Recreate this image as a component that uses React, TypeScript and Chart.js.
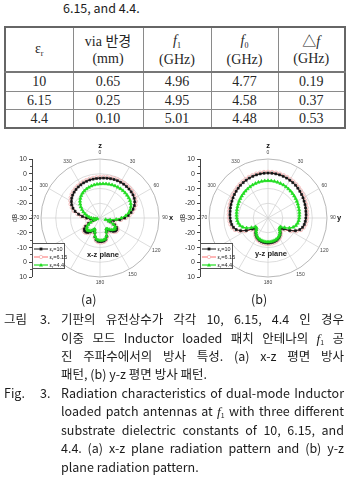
import React, { useEffect, useRef, useState } from 'react';
import { Chart, registerables } from 'chart.js';

Chart.register(...registerables);

// ---------------- table data ----------------
const erValues = ['10', '6.15', '4.4'];
const viaRadius = ['0.65', '0.25', '0.10'];
const f1Values = ['4.96', '4.95', '5.01'];
const f0Values = ['4.77', '4.58', '4.48'];
const dfValues = ['0.19', '0.37', '0.53'];

// ---------------- polar chart data ----------------
const angles = [
  0, 5, 10, 15, 20, 25, 30, 35, 40, 45, 50, 55, 60, 65, 70, 75, 80, 85,
  90, 95, 100, 105, 110, 115, 120, 125, 130, 135, 140, 145, 150, 155, 160, 165, 170, 175,
  180, 185, 190, 195, 200, 205, 210, 215, 220, 225, 230, 235, 240, 245, 250, 255, 260, 265,
  270, 275, 280, 285, 290, 295, 300, 305, 310, 315, 320, 325, 330, 335, 340, 345, 350, 355,
];
const angleTickLabels = ['0', '30', '60', '90', '120', '150', '180', '270', '300', '330'];
// dB axis beside each polar plot: upper half, centre, lower half (mirrored)
const dbTickValues = [10, 0, -10, -20, -30, -20, -10, 0, 10];
const dbTickSide = [-1, -1, -1, -1, 0, 1, 1, 1, 1];
const dbMinorValues = [5, -5, -15, -25];
const seriesEr = ['10', '6.15', '4.4'];

// x-z plane (dB)
const xzEr10 = [
  -3.0, -2.8, -2.6, -2.4, -2.2, -2.1, -2.0, -2.0, -2.1, -2.2,
  -2.4, -2.7, -3.2, -4.0, -5.2, -6.8, -8.6, -10.8, -13.3, -16.5,
  -20.5, -24.0, -22.5, -19.0, -17.0, -16.2, -16.3, -17.2, -18.6, -20.0,
  -21.0, -19.5, -16.8, -15.0, -14.2, -14.0, -14.0, -14.2, -15.0, -16.8,
  -19.5, -21.3, -20.0, -18.5, -17.2, -16.5, -16.4, -17.0, -18.8, -21.5,
  -25.0, -27.0, -26.0, -23.5, -21.0, -18.0, -15.3, -12.5, -10.5, -8.8,
  -7.6, -6.6, -5.8, -5.2, -4.7, -4.3, -4.0, -3.7, -3.5, -3.3,
  -3.2, -3.1,
];
const xzEr615 = [
  -2.2, -2.0, -1.8, -1.6, -1.4, -1.3, -1.2, -1.2, -1.3, -1.4,
  -1.6, -1.9, -2.4, -3.2, -4.4, -6.0, -7.8, -10.0, -12.5, -15.7,
  -19.5, -23.0, -21.8, -18.4, -16.4, -15.6, -15.7, -16.6, -18.0, -19.4,
  -20.4, -18.9, -16.2, -14.4, -13.6, -13.4, -13.4, -13.6, -14.4, -16.2,
  -18.9, -20.7, -19.4, -17.9, -16.6, -15.9, -15.8, -16.4, -18.2, -20.8,
  -24.2, -26.4, -25.4, -22.8, -20.2, -17.2, -14.5, -11.7, -9.7, -8.0,
  -6.8, -5.8, -5.0, -4.4, -3.9, -3.5, -3.2, -2.9, -2.7, -2.5,
  -2.4, -2.3,
];
const xzEr44 = [
  -6.9, -6.7, -6.5, -6.3, -6.1, -6.0, -5.9, -5.8, -5.8, -5.9,
  -6.0, -6.2, -6.5, -7.0, -7.7, -8.8, -10.3, -12.5, -15.5, -19.0,
  -23.0, -26.0, -23.5, -20.0, -18.0, -17.6, -17.8, -18.6, -19.8, -21.0,
  -21.5, -19.8, -17.2, -15.6, -15.0, -14.8, -14.8, -15.0, -15.6, -17.2,
  -19.8, -21.6, -20.8, -19.5, -18.6, -18.2, -18.4, -19.2, -20.8, -23.0,
  -26.0, -28.0, -27.0, -25.5, -24.0, -22.5, -21.0, -19.5, -18.0, -16.5,
  -15.0, -13.6, -12.3, -11.2, -10.2, -9.4, -8.8, -8.3, -7.9, -7.5,
  -7.2, -7.0,
];

// y-z plane (dB)
const yzEr10 = [
  0.5, 0.5, 0.4, 0.3, 0.1, -0.1, -0.4, -0.7, -1.0, -1.4,
  -1.8, -2.2, -2.6, -3.0, -3.3, -3.6, -3.9, -4.1, -4.3, -4.6,
  -5.0, -5.7, -7.0, -9.5, -13.0, -17.0, -19.0, -18.5, -17.0, -15.8,
  -14.9, -14.2, -13.7, -13.4, -13.2, -13.1, -13.0, -13.1, -13.2, -13.4,
  -13.7, -14.2, -14.9, -15.8, -17.0, -18.5, -19.0, -17.0, -13.0, -9.5,
  -7.0, -5.7, -5.0, -4.6, -4.3, -4.1, -3.9, -3.6, -3.3, -3.0,
  -2.6, -2.2, -1.8, -1.4, -1.0, -0.7, -0.4, -0.1, 0.1, 0.3,
  0.4, 0.5,
];
const yzEr615 = [
  1.3, 1.3, 1.2, 1.1, 0.9, 0.7, 0.4, 0.1, -0.2, -0.6,
  -1.0, -1.4, -1.8, -2.2, -2.5, -2.8, -3.1, -3.3, -3.5, -3.8,
  -4.2, -4.9, -6.2, -8.7, -12.2, -16.2, -18.4, -17.9, -16.4, -15.2,
  -14.3, -13.6, -13.1, -12.8, -12.6, -12.5, -12.4, -12.5, -12.6, -12.8,
  -13.1, -13.6, -14.3, -15.2, -16.4, -17.9, -18.4, -16.2, -12.2, -8.7,
  -6.2, -4.9, -4.2, -3.8, -3.5, -3.3, -3.1, -2.8, -2.5, -2.2,
  -1.8, -1.4, -1.0, -0.6, -0.2, 0.1, 0.4, 0.7, 0.9, 1.1,
  1.2, 1.3,
];
const yzEr44 = [
  -4.7, -4.7, -4.8, -4.9, -5.1, -5.3, -5.6, -5.9, -6.2, -6.5,
  -6.8, -7.1, -7.4, -7.7, -8.0, -8.2, -8.4, -8.6, -8.8, -9.1,
  -9.6, -10.4, -11.8, -14.0, -17.0, -19.5, -19.8, -18.8, -17.5, -16.3,
  -15.4, -14.8, -14.4, -14.1, -13.9, -13.8, -13.8, -13.8, -13.9, -14.1,
  -14.4, -14.8, -15.4, -16.3, -17.5, -18.8, -19.8, -19.5, -17.0, -14.0,
  -11.8, -10.4, -9.6, -9.1, -8.8, -8.6, -8.4, -8.2, -8.0, -7.7,
  -7.4, -7.1, -6.8, -6.5, -6.2, -5.9, -5.6, -5.3, -5.1, -4.9,
  -4.8, -4.7,
];

// ---------------- styles ----------------
const seriesStyles = [
  { line: '#151515', point: 'rect', fill: '#151515', stroke: '#151515', radius: 1.5, width: 1, order: 2 },
  { line: '#ff4a4a', point: 'circle', fill: '#ffffff', stroke: '#f09a9a', radius: 1.7, width: 0.8, order: 3 },
  { line: '#22dd22', point: 'triangle', fill: '#22dd22', stroke: '#22dd22', radius: 1.9, width: 1.2, order: 1 },
];

const CAP = '"Noto Sans CJK KR", "Liberation Sans", Arial, sans-serif';
const SERIF = '"Liberation Serif", "Times New Roman", "Noto Sans CJK KR", serif';
const CHART_TOP = 140;
const CHART_H = 150;

type PolarProps = { left: number; width: number; padRight: number; axisName: string; series: number[][] };
type AxisInfo = { x: number; cy: number; ys: number[]; top: number; bottom: number };

function PolarPattern({ left, width, padRight, axisName, series }: PolarProps) {
  const ref = useRef<HTMLCanvasElement | null>(null);
  const [axis, setAxis] = useState<AxisInfo | null>(null);
  useEffect(() => {
    const canvas = ref.current;
    if (!canvas) return;
    const annot = {
      id: 'polarAnnot',
      afterDraw(chart: any) {
        const r = chart.scales.r;
        const ctx = chart.ctx;
        const R = r.drawingArea;
        ctx.save();
        ctx.textAlign = 'center';
        ctx.textBaseline = 'middle';
        ctx.fillStyle = '#444';
        ctx.font = '5px Arial';
        angleTickLabels.forEach((lab) => {
          const idx = angles.indexOf(Number(lab));
          const p = r.getPointPosition(idx, R + 6);
          ctx.fillText(lab, p.x, p.y);
        });
        ctx.fillStyle = '#111';
        ctx.font = 'bold 7.5px Arial';
        let p = r.getPointPosition(0, R + 13);
        ctx.fillText('z', p.x, p.y);
        p = r.getPointPosition(angles.indexOf(90), R + 12);
        ctx.fillText(axisName, p.x, p.y);
        ctx.restore();
      },
    };
    const chart = new Chart(canvas, {
      type: 'radar',
      data: {
        labels: angles.map((a) => String(a)),
        datasets: series.map((d, i) => {
          const s = seriesStyles[i];
          return {
            label: 'εr=' + seriesEr[i],
            data: d,
            borderColor: s.line,
            backgroundColor: s.fill,
            borderWidth: s.width,
            pointStyle: s.point,
            pointRadius: s.radius,
            pointBorderWidth: 0.6,
            pointBackgroundColor: s.fill,
            pointBorderColor: s.stroke,
            fill: false,
            tension: 0,
            order: s.order,
          };
        }),
      },
      options: {
        responsive: false,
        animation: false,
        devicePixelRatio: 1,
        layout: { padding: { top: 19, bottom: 13, left: 32, right: padRight } },
        plugins: { legend: { display: false }, tooltip: { enabled: false } },
        scales: {
          r: {
            min: -30,
            max: 10,
            ticks: { display: false, stepSize: 10 },
            grid: {
              circular: true,
              color: (c: any) => (c.tick && c.tick.value === 10 ? '#9a9a9a' : '#cfcfcf'),
              lineWidth: 0.7,
            },
            angleLines: {
              display: true,
              color: (c: any) => (c.index % 6 === 0 ? '#cfcfcf' : 'transparent'),
              lineWidth: 0.7,
            },
            pointLabels: { display: false },
          },
        },
      },
      plugins: [annot],
    } as any);
    // positions of the mirrored dB axis, taken from the radial scale
    const r: any = (chart as any).scales.r;
    const cy = r.yCenter;
    const full = r.getDistanceFromCenterForValue(10);
    setAxis({
      x: chart.chartArea.left,
      cy,
      top: cy - full,
      bottom: cy + full,
      ys: dbTickValues.map((v, k) => cy + dbTickSide[k] * r.getDistanceFromCenterForValue(v)),
    });
    return () => chart.destroy();
  }, []);
  const minorYs: number[] = [];
  if (axis) {
    const R = axis.bottom - axis.cy;
    dbMinorValues.forEach((v) => {
      const d = ((v + 30) / 40) * R;
      minorYs.push(axis.cy - d, axis.cy + d);
    });
  }
  return (
    <>
      <canvas
        ref={ref}
        width={width}
        height={CHART_H}
        style={{ position: 'absolute', left, top: CHART_TOP, width, height: CHART_H }}
      />
      {axis && (
        <>
          <div
            style={{
              position: 'absolute',
              left: left + axis.x - 0.5,
              top: CHART_TOP + axis.top,
              width: 1,
              height: axis.bottom - axis.top,
              background: '#444',
            }}
          />
          {axis.ys.map((y, k) => (
            <React.Fragment key={k}>
              <div style={{ position: 'absolute', left: left + axis.x - 3, top: CHART_TOP + y - 0.5, width: 3, height: 1, background: '#444' }} />
              <div
                style={{
                  position: 'absolute',
                  left: left + axis.x - 30,
                  width: 25,
                  top: CHART_TOP + y - 5,
                  height: 10,
                  lineHeight: '10px',
                  textAlign: 'right',
                  fontFamily: 'Arial',
                  fontSize: 7,
                  color: '#333',
                  whiteSpace: 'nowrap',
                }}
              >
                {dbTickValues[k]}
              </div>
            </React.Fragment>
          ))}
          {minorYs.map((y, k) => (
            <div key={'m' + k} style={{ position: 'absolute', left: left + axis.x - 2, top: CHART_TOP + y - 0.5, width: 2, height: 1, background: '#555' }} />
          ))}
          <div
            style={{
              position: 'absolute',
              left: left + axis.x - 27,
              width: 20,
              top: CHART_TOP + axis.cy - 5,
              height: 10,
              lineHeight: '10px',
              textAlign: 'center',
              fontFamily: 'Arial',
              fontSize: 6.5,
              color: '#333',
              transform: 'rotate(-90deg)',
            }}
          >
            dB
          </div>
        </>
      )}
    </>
  );
}

function LegendBox({ left }: { left: number }) {
  return (
    <div
      style={{
        position: 'absolute',
        left,
        top: 243,
        width: 33,
        height: 26,
        border: '0.8px solid #555',
        background: '#fff',
        boxSizing: 'border-box',
      }}
    >
      {seriesEr.map((er, i) => {
        const s = seriesStyles[i];
        return (
          <div key={i} style={{ position: 'absolute', left: 1, top: 1 + i * 8, height: 8, display: 'flex', alignItems: 'center' }}>
            <svg width="14" height="6" style={{ display: 'block' }}>
              <line x1="0" y1="3" x2="14" y2="3" stroke={s.line} strokeWidth={s.width} />
              {s.point === 'rect' && <rect x="5.6" y="1.6" width="2.8" height="2.8" fill={s.fill} />}
              {s.point === 'circle' && <circle cx="7" cy="3" r="1.7" fill="#fff" stroke={s.stroke} strokeWidth="0.6" />}
              {s.point === 'triangle' && <polygon points="7,1 9,4.6 5,4.6" fill={s.fill} />}
            </svg>
            <span style={{ fontFamily: 'Arial', fontSize: 5.5, marginLeft: 1.5, color: '#222', whiteSpace: 'nowrap' }}>
              ε<span style={{ fontSize: 4, position: 'relative', top: 1 }}>r</span>={er}
            </span>
          </div>
        );
      })}
    </div>
  );
}

function F1({ size = 12.5 }: { size?: number }) {
  return (
    <span style={{ whiteSpace: 'nowrap' }}>
      <span style={{ fontFamily: SERIF, fontStyle: 'italic', fontSize: size + 1 }}>f</span>
      <span style={{ fontSize: size * 0.55, position: 'relative', top: 2 }}>1</span>
    </span>
  );
}

function JLine({ top, left = 61, width = 283, words }: { top: number; left?: number; width?: number; words: React.ReactNode[] }) {
  return (
    <div
      style={{
        position: 'absolute', left, width, top: top - 9.5, height: 19, lineHeight: '19px',
        display: 'flex', justifyContent: 'space-between', whiteSpace: 'nowrap',
        fontFamily: CAP, fontSize: 12.5, color: '#1c1c1c',
      }}
    >
      {words.map((w, i) => (
        <span key={i}>{w}</span>
      ))}
    </div>
  );
}

function PLine({ top, left = 61, text }: { top: number; left?: number; text: React.ReactNode }) {
  return (
    <div
      style={{
        position: 'absolute', left, top: top - 9.5, height: 19, lineHeight: '19px',
        whiteSpace: 'nowrap', fontFamily: CAP, fontSize: 12.5, color: '#1c1c1c',
      }}
    >
      {text}
    </div>
  );
}

const cellBase: React.CSSProperties = {
  border: '1px solid #8a8a8a', textAlign: 'center', verticalAlign: 'middle', padding: 0,
  fontFamily: SERIF, fontSize: 14, color: '#262626', lineHeight: '17px',
};
const headCell: React.CSSProperties = { ...cellBase, borderBottom: '2px solid #777' };
const sub: React.CSSProperties = { fontSize: 8, position: 'relative', top: 3 };

export default function App() {
  const rows = erValues.map((er, i) => [er, viaRadius[i], f1Values[i], f0Values[i], dfValues[i]]);
  const rowHeights = [19, 18.5, 18.5];
  const K = [318, 337, 355, 373];
  const F = [392, 410, 429, 447, 466];
  return (
    <div style={{ position: 'absolute', left: 0, top: 0, width: 347, height: 498, background: '#fff', overflow: 'hidden' }}>
      <PLine top={7.5} left={63} text="6.15, and 4.4." />

      <table style={{ position: 'absolute', left: 4, top: 26, width: 340, borderCollapse: 'collapse', border: '2px solid #666', tableLayout: 'fixed' }}>
        <colgroup>
          <col style={{ width: 68 }} />
          <col style={{ width: 70 }} />
          <col style={{ width: 68 }} />
          <col style={{ width: 67 }} />
          <col style={{ width: 67 }} />
        </colgroup>
        <tbody>
          <tr style={{ height: 45 }}>
            <td style={headCell}>ε<span style={sub}>r</span></td>
            <td style={headCell}>via 반경<br />(mm)</td>
            <td style={headCell}><i>f</i><span style={sub}>1</span><br />(GHz)</td>
            <td style={headCell}><i>f</i><span style={sub}>0</span><br />(GHz)</td>
            <td style={headCell}>△<i>f</i><br />(GHz)</td>
          </tr>
          {rows.map((r, i) => (
            <tr key={i} style={{ height: rowHeights[i] }}>
              {r.map((v, j) => (
                <td key={j} style={cellBase}>{v}</td>
              ))}
            </tr>
          ))}
        </tbody>
      </table>

      <PolarPattern left={0} width={175} padRight={7} axisName="x" series={[xzEr10, xzEr615, xzEr44]} />
      <PolarPattern left={168} width={179} padRight={11} axisName="y" series={[yzEr10, yzEr615, yzEr44]} />
      <LegendBox left={32} />
      <LegendBox left={200} />
      <div style={{ position: 'absolute', left: 83, width: 40, top: 250, textAlign: 'center', fontFamily: 'Arial', fontWeight: 'bold', fontSize: 7.5, color: '#222' }}>x-z plane</div>
      <div style={{ position: 'absolute', left: 251, width: 40, top: 249, textAlign: 'center', fontFamily: 'Arial', fontWeight: 'bold', fontSize: 7.5, color: '#222' }}>y-z plane</div>

      <PLine top={298} left={81} text="(a)" />
      <PLine top={298} left={251} text="(b)" />

      <PLine top={K[0]} left={4} text="그림" />
      <PLine top={K[0]} left={40} text="3." />
      <JLine top={K[0]} words={['기판의', '유전상수가', '각각', '10,', '6.15,', '4.4', '인', '경우']} />
      <JLine top={K[1]} words={['이중', '모드', 'Inductor', 'loaded', '패치', '안테나의', <F1 />, '공']} />
      <JLine top={K[2]} words={['진', '주파수에서의', '방사', '특성.', '(a)', 'x-z', '평면', '방사']} />
      <PLine top={K[3]} text="패턴, (b) y-z 평면 방사 패턴." />

      <PLine top={F[0]} left={4} text="Fig." />
      <PLine top={F[0]} left={40} text="3." />
      <JLine top={F[0]} words={['Radiation', 'characteristics', 'of', 'dual-mode', 'Inductor']} />
      <JLine top={F[1]} words={['loaded', 'patch', 'antennas', 'at', <F1 />, 'with', 'three', 'different']} />
      <JLine top={F[2]} words={['substrate', 'dielectric', 'constants', 'of', '10,', '6.15,', 'and']} />
      <JLine top={F[3]} words={['4.4.', '(a)', 'x-z', 'plane', 'radiation', 'pattern', 'and', '(b)', 'y-z']} />
      <PLine top={F[4]} text="plane radiation pattern." />
    </div>
  );
}
